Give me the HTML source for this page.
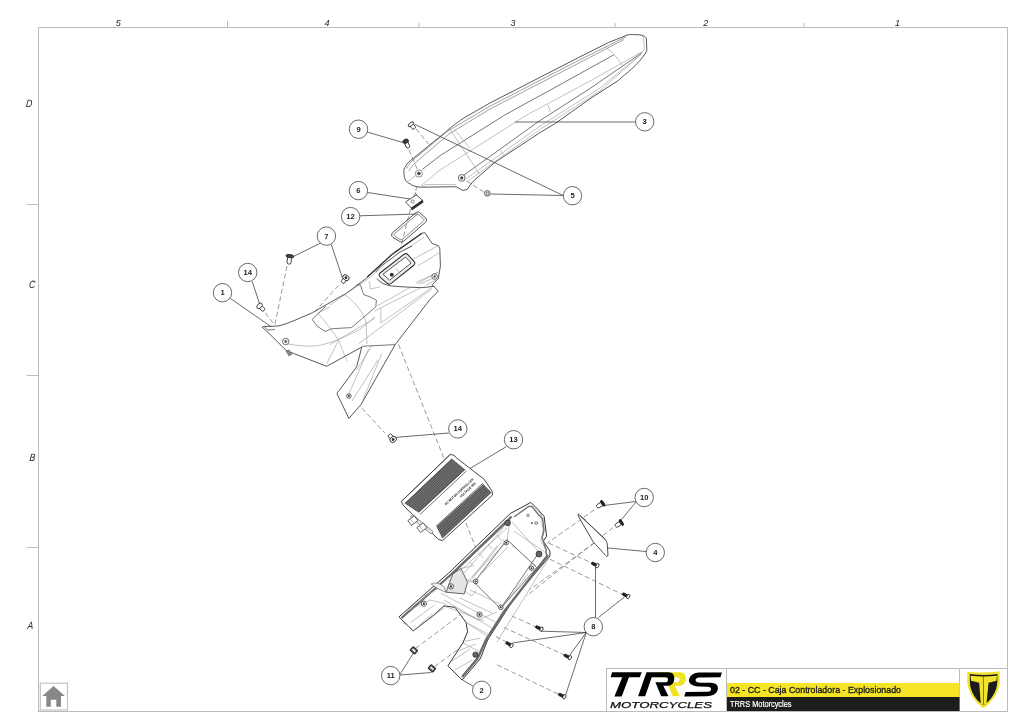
<!DOCTYPE html>
<html><head><meta charset="utf-8">
<style>
html,body{margin:0;padding:0;background:#fff;}
body{width:1030px;height:728px;overflow:hidden;}
svg{display:block;will-change:transform;font-family:"Liberation Sans",sans-serif;}
.fr{stroke:#bcbcbc;stroke-width:1;fill:none;}
.lab{font-style:italic;font-size:9px;fill:#222;}
.co circle{fill:#fff;stroke:#444;stroke-width:0.8;}
.co text{font-size:7.6px;font-weight:bold;fill:#222;text-anchor:middle;}
.ld{stroke:#3a3a3a;stroke-width:0.75;fill:none;}
.ds{stroke:#555;stroke-width:0.6;fill:none;stroke-dasharray:5 2.8;}
.p{stroke:#333;stroke-width:0.9;fill:#fff;stroke-linejoin:round;}
.pl{stroke:#666;stroke-width:0.5;fill:none;}
.o{stroke:#454545;stroke-width:0.9;fill:#fff;stroke-linejoin:round;}
.d{stroke:#555;stroke-width:0.8;fill:none;}
.l{stroke:#999;stroke-width:0.6;fill:none;}
</style></head>
<body>
<svg width="1030" height="728" viewBox="0 0 1030 728">
<!-- frame -->
<g id="frame">
<rect class="fr" x="38.5" y="27.5" width="969" height="684"/>
<path class="fr" d="M227.5 21V27.5M419 23V27.5M615 23V27.5M804 23V27.5M26.5 204.5H38.5M26.5 375.5H38.5M26.5 547.5H38.5"/>
<text class="lab" x="118.2" y="26.3" text-anchor="middle">5</text>
<text class="lab" x="327" y="25.6" text-anchor="middle">4</text>
<text class="lab" x="513" y="26" text-anchor="middle">3</text>
<text class="lab" x="705.7" y="26" text-anchor="middle">2</text>
<text class="lab" x="897.5" y="26" text-anchor="middle">1</text>
<text class="lab" transform="translate(29,106.8) scale(0.82,1) skewX(-6)" style="font-size:10.6px" text-anchor="middle">D</text>
<text class="lab" transform="translate(31.8,287.9) scale(0.82,1) skewX(-6)" style="font-size:10.6px" text-anchor="middle">C</text>
<text class="lab" transform="translate(32.2,460.6) scale(0.82,1) skewX(-6)" style="font-size:10.6px" text-anchor="middle">B</text>
<text class="lab" transform="translate(30.2,629) scale(0.82,1) skewX(-6)" style="font-size:10.6px" text-anchor="middle">A</text>
</g>
<g id="fender">
<path class="o" d="M404 173C403.6 169.5 404.2 168 405.1 167.5C406 165 408 162.5 410.1 160.9L445.3 132.3C450 128 455 124 463.9 118L489.4 103.3L580 56.8L608.8 42.4L628.1 34.7C634 34.4 639 34.6 642 35.3C644.5 36 646 37 646.4 39L646.8 50.5L645.4 53.3C640 61 636 65 631.8 68.8C627 73 622 77 618.3 80.5L591.1 98L555.7 123.2L540 132.6L495 162.3L472.7 181.7L467.2 189.4L462.8 190.5L456.2 186.7L420 187.2C415 186.5 412 185.5 410.1 183.9C407.5 182.5 406.3 181.5 405.7 180.6C404.5 178 404 175.5 404 173Z"/>
<path class="d" style="stroke:#777;stroke-width:0.7" d="M406.5 168.5C409 164 411 162 413.4 159.8L447 131.5L489.4 106.5L580 59.7L626.2 36.7M409 171C411 167 413 165 415 163L449 134L490 109L580 62.5L624 39.5"/>
<path class="d" d="M422.2 169.6L440 155.7L504.8 115L560 84.7L613.7 54.9"/>
<path class="l" d="M421.1 185.6L440 170L526.8 115L590 81.1L641.5 52"/>
<path class="d" d="M462 176.5L540 120.5L590 88.5L641.5 53"/>
<path class="l" d="M466.4 178.7L540 126L600 88L641.5 53.5M468 181L540 129.3L600 90.9L641.5 54M449.9 129.3L479.6 174.3M454.3 129.3L469.7 148M605 47.2C609 50 611.5 51.5 613.7 54C617 58 620 62 622.3 65.5M643 35.7C644 42 644.5 46 644 50.1L641.5 53M499.3 149L503.7 154.6M547.9 104.6L550.3 112M407.9 181.2L418.9 173.5M421 187L426 184.5L456 184.5"/>
<circle cx="418.9" cy="173.5" r="3.6" fill="#fff" stroke="#888" stroke-width="0.9"/><circle cx="418.9" cy="173.5" r="1.8" fill="#444"/>
<circle cx="461.7" cy="177.9" r="3.4" fill="#fff" stroke="#555" stroke-width="0.9"/><circle cx="461.7" cy="177.9" r="1.6" fill="#444"/>
</g>
<g id="leaders">
<path class="ld" d="M515 122H635.5M563.2 195.5L414.5 124.2M563.2 195.5L490.6 194M367 132L403 142.5M367.6 192.5L410 199M360 215.8L417.5 214M320.4 243.2L292.3 257M331.3 244.6L342.3 277.5M252.2 281.5L259.5 303.5M230.5 298.5L273 328M448.7 433L395.2 437.4M506.3 446.6L467.1 470.3M635.5 501.5L600 506M636 502L617 525M646.2 551.5L608 548M595.5 617.6V567M598.4 617.6L624.8 596.7M586.3 632.5L541.2 631.2M586.3 632.5L512.6 642.9M586.3 632.5L569.8 655M586.3 632.5L565.4 695.6M400 674.5L413.5 652.8M400 675L431.5 672.5M472.9 686L462.5 680"/>
</g>
<path class="ds" d="M416.1 129L428.8 144.4M409 149.9L418.3 171.8M466.4 181L484 192M417.2 186.1L413.4 198M410.5 209L397 262M287 266L274.6 326M265.4 312.8L273.3 323.3M338.5 285.4L290.2 338.9M361.8 408.1L385 433M398.5 344.5L445 461M465.9 523L490.6 585M594.4 509.7L547.4 543.1M613 527.6L526.9 595.6M594.4 543.1L530 589.5M548.7 543.1L594 564M549.9 559.2L624 595.2M511.8 616L536.5 627M503.8 627.5L564.5 655M497.2 664.9L558 694M415.5 648.4L459.7 615.3M434.5 666.6L458.2 649.2M496 636.6L507.5 642.5"/>
<g id="clip6">
<path class="o" d="M405.6 201.9L416.3 194.9L422.5 200.3L411.3 208.1Z"/>
<path d="M411.3 208.1L422.5 200.3L423.2 202.2L412 210Z" fill="#333" stroke="#222" stroke-width="0.6"/>
<circle cx="412.6" cy="201.5" r="1.6" fill="none" stroke="#555" stroke-width="0.7"/>
<path class="d" d="M415.4 192.4L416.6 196"/>
</g>
<g id="gasket12">
<path fill="none" stroke="#333" stroke-width="0.85" d="M392.4 232.8C391 234.5 391.5 236 393 237.5L399.8 241.5C401 242.3 402.5 242 403.5 241.3L425.3 222.5C427 221 427 219.5 425.6 218L419.5 212.5C418.5 211.8 417 211.8 416 212.6Z"/>
<path fill="none" stroke="#555" stroke-width="0.7" d="M394.7 233.5C393.7 234.6 394 235.5 395 236.4L400 239.4C401 239.9 401.8 239.8 402.5 239.2L423 221.5C424.2 220.4 424.2 219.6 423.3 218.7L418.9 214.8C418.2 214.2 417.3 214.3 416.6 214.9Z"/>
</g>
<g id="tail1">
<path class="o" d="M262.2 327.2L264.1 326.5C268 326.3 274 326.4 278.5 325.9C285 324.5 289 322.5 294.1 320.6C300 318 306 315.5 312.4 312.8L328 303.7L346.3 293.3L367.2 277.6L395 251.8L421.8 233.2L424.9 232.7L432.1 243.5L438.3 245.6L439.8 248.7L440.4 266.2L438.3 278.6L432.1 284.8L438.3 291L429.6 300L395.2 344.6L360.9 404.7L348.9 418.4L336.9 393.5L356.6 366.9L361.8 347L326.7 366.3L286.3 350.6L281.1 345.4L268 332.4Z"/>
<path class="d" d="M361.8 346.3L395.2 344.6"/>
<path d="M367.2 277L391.3 255L421.8 233.5" stroke="#333" stroke-width="1.1" fill="none"/>
<path class="l" d="M330 305L368 279L395 256.5L423.9 237.4M318 313L330 307"/>
<path class="d" d="M326 306L312.1 319.4L317.6 326.5L325.3 331.5L331.9 328.7L351.6 327.6L375.8 306.8L376.4 300.2L370.3 296.9L363.7 294.7L360.4 284.8L356 285.3"/>
<path class="l" d="M287.6 344.1C297 345.5 305 346.3 313.7 346.1C320 345.8 327 343.5 333.3 341.5C342 338 351 334 359.3 329.8C365 326 370 321 375 316.7M318 313.5C326 322 333 332 338.5 340.2L326.7 363.7M338.5 340.2L347 361M345 294.7C355 302 363 312 366 322L367 344M369.2 281.1L370.5 289L380 287M377 305.9L438.3 272M374.4 311.1L436 280M380.9 307.2L380.9 322.9L431.8 287.6M358.7 343.8L431.8 289M330 344.6L375 318"/>
<path class="o" d="M375.7 272C378 269 380 267 382.2 265.4L400 252L412 246M377 278.5C378.5 280.5 380 282 382.2 283.1C386 285 390 286 395.3 286.3C405 287 415 287.5 421.4 287.6C426 287.3 430 286.8 434.4 286.3"/>
<path fill="#eee" stroke="#333" stroke-width="1.1" stroke-linejoin="round" d="M380 273C378.8 274.5 379 276 380.3 277.3L387.2 283.3C388.5 284.3 390 284.3 391.2 283.4L413.8 265.2C415 264.2 415.2 262.8 414.2 261.7L407.8 254.6C406.8 253.6 405.3 253.4 404 254.3Z"/>
<path fill="#fff" stroke="#444" stroke-width="0.9" stroke-linejoin="round" d="M383 274.2L389.6 280.2L411.2 263L405.6 257Z"/>
<path class="l" d="M395.5 268L400.5 273.8M413 259.2L437.7 246M418 265.8L439.4 252.6M416.3 282.3L437.7 272.4M420 284L438 276"/>
<circle cx="391.8" cy="274.8" r="2" fill="#333"/>
<circle cx="434.6" cy="276.5" r="2.8" fill="#fff" stroke="#444" stroke-width="0.8"/><circle cx="434.6" cy="276.5" r="1.2" fill="#555"/>
<path class="l" d="M372 345.5L356.6 370M382 353L363 400M378 360L352 401M368.6 349L348 396"/>
<circle cx="348.9" cy="396.1" r="2.2" fill="#fff" stroke="#333" stroke-width="0.8"/><circle cx="348.9" cy="396.1" r="1" fill="#333"/>
<circle cx="285.7" cy="341.5" r="3.2" fill="#fff" stroke="#444" stroke-width="0.8"/><circle cx="285.7" cy="341.5" r="1.4" fill="#666"/>
<path d="M286 351L289 356L292 354L289 350Z" fill="#888" stroke="#444" stroke-width="0.5"/>
<path class="d" d="M264.1 326.5L268 330L275 329.5"/>
</g>
<g transform="translate(411.2,124.6) rotate(50)"><rect x="0" y="-1.9" width="5.2" height="3.8" rx="1.52" fill="#fff" stroke="#222" stroke-width="0.8"/><ellipse cx="-0.45" cy="0" rx="1.5" ry="3.3" fill="#fff" stroke="#222" stroke-width="0.85"/></g>
<g transform="translate(405.9,141.8) rotate(67)"><rect x="0" y="-1.8" width="6.5" height="3.6" rx="1.44" fill="#fff" stroke="#222" stroke-width="0.8"/><ellipse cx="-0.60" cy="0" rx="2.0" ry="2.9" fill="#444" stroke="#222" stroke-width="0.85"/><ellipse cx="-0.60" cy="0" rx="1.00" ry="1.30" fill="#333"/></g>
<circle cx="487.3" cy="193.4" r="2.8" fill="#fff" stroke="#333" stroke-width="0.8"/><circle cx="487.3" cy="193.4" r="1.3" fill="none" stroke="#333" stroke-width="0.7"/>
<g transform="translate(289.8,256.6) rotate(98)"><rect x="0" y="-2" width="7.5" height="4" rx="1.60" fill="#fff" stroke="#222" stroke-width="0.8"/><ellipse cx="-0.48" cy="0" rx="1.6" ry="4" fill="#444" stroke="#222" stroke-width="0.85"/></g>
<g transform="translate(345.5,278.3) rotate(125)"><rect x="0" y="-1.9" width="5.5" height="3.8" rx="1.52" fill="#fff" stroke="#222" stroke-width="0.8"/><ellipse cx="-0.78" cy="0" rx="2.6" ry="3.4" fill="#fff" stroke="#222" stroke-width="0.85"/><ellipse cx="-0.78" cy="0" rx="1.30" ry="1.53" fill="#333"/></g>
<g transform="translate(260,306.4) rotate(45)"><rect x="0" y="-1.8" width="5.8" height="3.6" rx="1.44" fill="#fff" stroke="#222" stroke-width="0.8"/><ellipse cx="-0.66" cy="0" rx="2.2" ry="3.2" fill="#fff" stroke="#222" stroke-width="0.85"/></g>
<g transform="translate(392.6,438.8) rotate(-130)"><rect x="0" y="-1.9" width="5.5" height="3.8" rx="1.52" fill="#fff" stroke="#222" stroke-width="0.8"/><ellipse cx="-0.84" cy="0" rx="2.8" ry="3.4" fill="#fff" stroke="#222" stroke-width="0.85"/><ellipse cx="-0.84" cy="0" rx="1.40" ry="1.53" fill="#333"/></g>
<g id="ctrl">
<path fill="#fff" stroke="#333" stroke-width="0.9" stroke-linejoin="round" d="M401.3 501.5L450.2 454.5L454.1 455.2L455.4 457.1L484.2 479.3L492 491.1L492.6 495L442.4 540.7L438.5 539.4L403.2 505.4Z"/>
<path fill="#585858" d="M404.8 503.5L452 458.8L465 469.5L418.5 512.5Z"/>
<path fill="#585858" d="M436.5 526.5L483.2 484L491.5 492.6L442.4 538.6Z"/>
<path stroke="#9a9a9a" stroke-width="0.5" fill="none" d="M406.3 504.5L453.4 460.0M407.8 505.5L454.9 461.2M409.4 506.5L456.3 462.4M410.9 507.5L457.8 463.6M412.4 508.5L459.2 464.7M413.9 509.5L460.7 465.9M415.5 510.5L462.1 467.1M417.0 511.5L463.6 468.3M437.0 528.5L484.4 484.7M438.1 530.7L485.9 486.3M439.1 532.8L487.4 487.8M440.2 535.0L489.0 489.3M441.3 537.2L490.5 490.9"/>
<path stroke="#333" stroke-width="0.7" fill="none" d="M401.3 501.5L450.2 454.5M404.8 503.5L452 458.8M418.5 512.5L465 469.5M420 514.5L466.5 471M435.9 526.3L482.9 483.2"/>
<text transform="translate(446,505.6) rotate(-42.9)" font-size="3.3px" font-weight="bold" fill="#222" textLength="38" lengthAdjust="spacingAndGlyphs">DC MOTOR CONTROLLER</text>
<text transform="translate(461,497.8) rotate(-42.9)" font-size="3.3px" font-weight="bold" fill="#222" textLength="21" lengthAdjust="spacingAndGlyphs">VOLTAGE 48V</text>
<path fill="#e6e6e6" stroke="#555" stroke-width="0.6" d="M412.4 514.6L433.2 531.6L431 534L410.5 517Z"/>
<g transform="translate(410.5,522.4) rotate(-37)"><rect x="-1" y="-3" width="8" height="6" fill="#fff" stroke="#333" stroke-width="0.7"/><path d="M2 -3V3" stroke="#888" stroke-width="0.5"/></g>
<g transform="translate(419.5,529.5) rotate(-37)"><rect x="-1" y="-3" width="8" height="6" fill="#fff" stroke="#333" stroke-width="0.7"/><path d="M2 -3V3" stroke="#888" stroke-width="0.5"/></g>
</g>
<g id="bracket2">
<path class="o" style="stroke:#333;stroke-width:1" d="M399 616.8L448.7 573L510.3 513.5L520.2 508.2L530.9 502.4L536.7 508.2L544.1 516.4L546.6 536.2L543.3 541.1L549.9 551L549.9 556L515 597L487.6 640L480.3 658.7L462.1 680L447.9 665.8L462.9 642.9L467.6 631.8L466 622.4L455 607.4L444 605.8L434.5 614.5L413.2 631Z"/>
<path fill="none" stroke="#6a6a6a" stroke-width="2.2" stroke-linejoin="round" d="M401.5 618L450 575.5L511.5 516.5"/>
<path fill="none" stroke="#6a6a6a" stroke-width="2.4" stroke-linejoin="round" d="M548 555L503 613.1L486 640L477.5 658.5L462 677"/>
<path class="l" d="M533 505L541 514L543.5 535L540.5 540.5L546.5 550.5M549.1 557.6L507.4 625L497 642M528.2 573.6L504 604.3M402.3 622L412 629"/>
<path class="d" d="M510.3 519.7L452.7 574.1M540 551L500.5 608.7M507 539.5L536.7 567.5L500.5 608.7L474.1 582.3Z"/>
<path class="l" d="M510.3 519.7L507 539.5M512 522L538 551M504 544L477 579M497 546L470 580M452.7 574.1L474.1 582.3M448 580L472 596L476 590M440.8 593.2L496 622.4M444 600L492 628M455 607.4L478 620L497 612M466 622.4L490 638M462.9 642.9L480 652M424 596L440 588L446 592M405 612L430 600L446 604M413.2 631L432 614M420 626L444 608"/>
<path class="l" d="M445.5 606.6L483.4 620.8M466 622.4L489.7 635M464.5 641.3L480.3 638.2M458.2 650.8L476 644M401.3 614.5L442.4 584.5M410.8 622.4L434.5 605M452 661L470 649M455 670L472 660M470 590L500 604M460 598L492 613M514 531.2L546.7 553.4M511.8 545L536 566M472 576.7L505.8 542.9M476 579L508 547"/>
<path fill="#f2f2f2" stroke="#555" stroke-width="0.6" d="M431.2 584C434 582 440 583 444.4 587.3L446.1 592.2C442 591 436 588 431.2 584Z"/>
<path fill="#e4e4e4" stroke="#444" stroke-width="0.8" stroke-linejoin="round" d="M452.7 574.1L460.9 568.3L467.5 582.3L464.2 593.9L446.1 592.2Z"/>
<path class="l" d="M507 528L460 571M503.8 527.4L462.7 574.8M504 539L472.5 578.5M497 535L501 540M488 544L492 549M479 553L483 558M470 562L474 567M460.9 568.3L472 566M467.5 582.3L476 580"/>
<circle cx="531.5" cy="568.2" r="2.2" fill="#fff" stroke="#333" stroke-width="0.8"/><circle cx="531.5" cy="568.2" r="0.99" fill="#333"/>
<circle cx="506.2" cy="542.8" r="2.2" fill="#fff" stroke="#333" stroke-width="0.8"/><circle cx="506.2" cy="542.8" r="0.99" fill="#333"/>
<circle cx="475.7" cy="581.5" r="2.3" fill="#fff" stroke="#333" stroke-width="0.8"/><circle cx="475.7" cy="581.5" r="1.03" fill="#333"/>
<circle cx="451" cy="586.4" r="2.6" fill="#fff" stroke="#333" stroke-width="0.8"/><circle cx="451" cy="586.4" r="1.17" fill="#333"/>
<circle cx="423.8" cy="603.7" r="2.6" fill="#fff" stroke="#333" stroke-width="0.8"/><circle cx="423.8" cy="603.7" r="1.17" fill="#333"/>
<circle cx="500.8" cy="607.3" r="2.3" fill="#fff" stroke="#333" stroke-width="0.8"/><circle cx="500.8" cy="607.3" r="1.03" fill="#333"/>
<circle cx="479.5" cy="614.5" r="2.6" fill="#fff" stroke="#333" stroke-width="0.8"/><circle cx="479.5" cy="614.5" r="1.17" fill="#333"/>
<path fill="none" stroke="#777" stroke-width="1.5" stroke-linejoin="round" d="M514 517L528.5 506.5L532 506.5L538 514L542.5 518.5L544 530L542 537.5L546 549.5L546.5 555"/>
<circle cx="528" cy="515.4" r="1.2" fill="none" stroke="#444" stroke-width="0.7"/><circle cx="531.8" cy="523" r="0.9" fill="#444"/><circle cx="536.2" cy="523" r="1.4" fill="none" stroke="#444" stroke-width="0.7"/>
<circle cx="475.5" cy="654.7" r="2.7" fill="#666" stroke="#333" stroke-width="0.8"/>
<circle cx="507.6" cy="523" r="2.8" fill="#666" stroke="#333" stroke-width="0.8"/><circle cx="539" cy="554" r="3" fill="#666" stroke="#333" stroke-width="0.8"/>
</g>
<path fill="#fff" stroke="#333" stroke-width="0.9" stroke-linejoin="round" d="M578.3 514L604.3 538.2C606 540 607.5 543 607.4 545.6L608 555.5L606.7 556.4C604 554 600 549 593.2 541.9L579.6 518.4C578.5 516.5 578 515 578.3 514Z"/>
<path fill="none" stroke="#444" stroke-width="0.6" d="M580.3 515.8L604.8 539.5M581 517L586 520"/>
<g transform="translate(602.4,503.5) rotate(148)"><rect x="0" y="-1.9" width="6.5" height="3.8" rx="1.52" fill="#fff" stroke="#222" stroke-width="0.8"/><ellipse cx="-0.39" cy="0" rx="1.3" ry="3.4" fill="#222" stroke="#222" stroke-width="0.85"/></g>
<g transform="translate(621,522.7) rotate(148)"><rect x="0" y="-1.9" width="6.5" height="3.8" rx="1.52" fill="#fff" stroke="#222" stroke-width="0.8"/><ellipse cx="-0.39" cy="0" rx="1.3" ry="3.4" fill="#222" stroke="#222" stroke-width="0.85"/></g>
<g transform="translate(597.0,565.5) rotate(-155)"><rect x="0" y="-1.25" width="6" height="2.5" rx="1.00" fill="#222" stroke="#222" stroke-width="0.8"/><ellipse cx="-0.42" cy="0" rx="1.4" ry="2.3" fill="#fff" stroke="#222" stroke-width="0.85"/></g>
<g transform="translate(627.8,596.3) rotate(-154)"><rect x="0" y="-1.25" width="6" height="2.5" rx="1.00" fill="#222" stroke="#222" stroke-width="0.8"/><ellipse cx="-0.42" cy="0" rx="1.4" ry="2.3" fill="#fff" stroke="#222" stroke-width="0.85"/></g>
<g transform="translate(541.0999999999999,629.0) rotate(-156)"><rect x="0" y="-1.25" width="6" height="2.5" rx="1.00" fill="#222" stroke="#222" stroke-width="0.8"/><ellipse cx="-0.42" cy="0" rx="1.4" ry="2.3" fill="#fff" stroke="#222" stroke-width="0.85"/></g>
<g transform="translate(511.2,645.4) rotate(-150)"><rect x="0" y="-1.25" width="6" height="2.5" rx="1.00" fill="#222" stroke="#222" stroke-width="0.8"/><ellipse cx="-0.42" cy="0" rx="1.4" ry="2.3" fill="#fff" stroke="#222" stroke-width="0.85"/></g>
<g transform="translate(569.5,657.5) rotate(-155)"><rect x="0" y="-1.25" width="6" height="2.5" rx="1.00" fill="#222" stroke="#222" stroke-width="0.8"/><ellipse cx="-0.42" cy="0" rx="1.4" ry="2.3" fill="#fff" stroke="#222" stroke-width="0.85"/></g>
<g transform="translate(564.0,696.5999999999999) rotate(-155)"><rect x="0" y="-1.25" width="6" height="2.5" rx="1.00" fill="#222" stroke="#222" stroke-width="0.8"/><ellipse cx="-0.42" cy="0" rx="1.4" ry="2.3" fill="#fff" stroke="#222" stroke-width="0.85"/></g>
<g transform="translate(413.9,650.4) rotate(42)"><rect x="-3.1" y="-2.4" width="6.2" height="4.8" rx="0.8" fill="#666" stroke="#222" stroke-width="1"/><rect x="-1.8" y="-0.9" width="3.6" height="1.8" fill="#eee"/></g>
<g transform="translate(431.9,668.4) rotate(42)"><rect x="-3.1" y="-2.4" width="6.2" height="4.8" rx="0.8" fill="#666" stroke="#222" stroke-width="1"/><rect x="-1.8" y="-0.9" width="3.6" height="1.8" fill="#eee"/></g>
<g class="co">
<circle cx="644.7" cy="121.8" r="9.2"/><text x="644.7" y="124.35">3</text>
<circle cx="572.5" cy="195.7" r="9.2"/><text x="572.5" y="198.25">5</text>
<circle cx="358.5" cy="129.2" r="9.2"/><text x="358.5" y="131.75">9</text>
<circle cx="358.4" cy="190.6" r="9.2"/><text x="358.4" y="193.15">6</text>
<circle cx="350.6" cy="216.6" r="9.2"/><text x="350.6" y="219.15">12</text>
<circle cx="326.4" cy="236.1" r="9.2"/><text x="326.4" y="238.65">7</text>
<circle cx="247.7" cy="272.5" r="9.2"/><text x="247.7" y="275.05">14</text>
<circle cx="222.5" cy="292.7" r="9.2"/><text x="222.5" y="295.25">1</text>
<circle cx="457.8" cy="428.9" r="9.2"/><text x="457.8" y="431.45">14</text>
<circle cx="513.5" cy="439.7" r="9.2"/><text x="513.5" y="442.25">13</text>
<circle cx="644.2" cy="497.5" r="9.2"/><text x="644.2" y="500.05">10</text>
<circle cx="655.3" cy="552.5" r="9.2"/><text x="655.3" y="555.05">4</text>
<circle cx="593.3" cy="626.7" r="9.2"/><text x="593.3" y="629.25">8</text>
<circle cx="481.7" cy="690.3" r="9.2"/><text x="481.7" y="692.85">2</text>
<circle cx="390.7" cy="675.6" r="9.2"/><text x="390.7" y="678.15">11</text>
</g>
<!-- home -->
<g id="home">
<rect x="40.3" y="683.2" width="27.2" height="26.8" fill="#fff" stroke="#c4c4c4" stroke-width="1.2"/>
<path d="M53.5 686.1L42.3 696.1H46.3V706.8H50.8V699.8H56.3V706.8H61V696.1H64.9Z" fill="#878787"/>
</g>
<!-- title block -->
<g id="title">
<rect x="606.5" y="668.5" width="401" height="43" fill="#fff" stroke="#bcbcbc" stroke-width="1"/>
<path d="M726.5 668.5V711.5M959.5 668.5V711.5" stroke="#bcbcbc" stroke-width="1"/>
<rect x="727" y="683" width="232.5" height="14" fill="#f5e526"/>
<rect x="727" y="697" width="232.5" height="14" fill="#1d1d1b"/>
<text x="730" y="693.4" font-size="9px" fill="#1d1d1b" stroke="#1d1d1b" stroke-width="0.32" textLength="171" lengthAdjust="spacingAndGlyphs">02 - CC - Caja Controladora - Explosionado</text>
<text x="730" y="706.6" font-size="8.2px" fill="#fff" stroke="#fff" stroke-width="0.2" textLength="61.5" lengthAdjust="spacingAndGlyphs">TRRS Motorcycles</text>
<!-- TRRS logo -->
<path transform="translate(608,670) scale(0.05824)" fill="#000" d="M70 40L580 40L545 125L360 125L235 455L110 455L245 125L45 125Z"/>
<path transform="translate(636,670) scale(0.05244)" fill="#ede322" d="M420 45L840 45C920 45 955 100 950 170C945 250 900 300 820 300L740 300L840 500L700 500L590 235L780 235C815 235 830 210 830 185C830 155 810 140 780 140L420 140Z"/>
<path transform="translate(636,670) scale(0.05244)" fill="#000" d="M200 45L620 45C700 45 735 100 730 170C725 250 680 300 600 300L520 300L620 500L480 500L370 235L560 235C595 235 610 210 610 185C610 155 590 140 560 140L300 140L175 500L40 500Z"/>
<path transform="translate(680,670) scale(0.04369)" fill="#000" d="M440 55L960 60L925 168L430 170C370 175 345 220 360 250C375 280 410 288 470 290L700 292C850 300 890 380 860 460C830 560 740 600 610 600L95 605L130 505L640 500C690 495 715 470 710 430C705 400 680 388 620 385L420 380C270 370 195 300 205 230C215 120 320 60 440 55Z"/>
<text x="610" y="707.8" font-size="8.6px" font-style="italic" fill="#111" stroke="#111" stroke-width="0.25" textLength="102" lengthAdjust="spacingAndGlyphs">MOTORCYCLES</text>
<!-- shield -->
<g transform="translate(962,668) scale(0.06044)">
<path fill="#f2e22a" d="M88 62C250 80 450 80 622 55L628 210C615 400 500 560 355 668C205 560 95 400 85 210Z"/>
<path fill="#1b1b1b" d="M130 100C280 120 440 120 585 100L585 230C575 400 480 530 355 618C235 530 135 400 130 230Z"/>
<path fill="#f2e22a" d="M140 128C280 143 440 143 580 128L570 210L440 245L405 590L355 610L310 590L285 245L150 210Z"/>
<path stroke="#333" stroke-width="10" d="M355 140V600"/>
</g>
</g>
</svg>
</body></html>
